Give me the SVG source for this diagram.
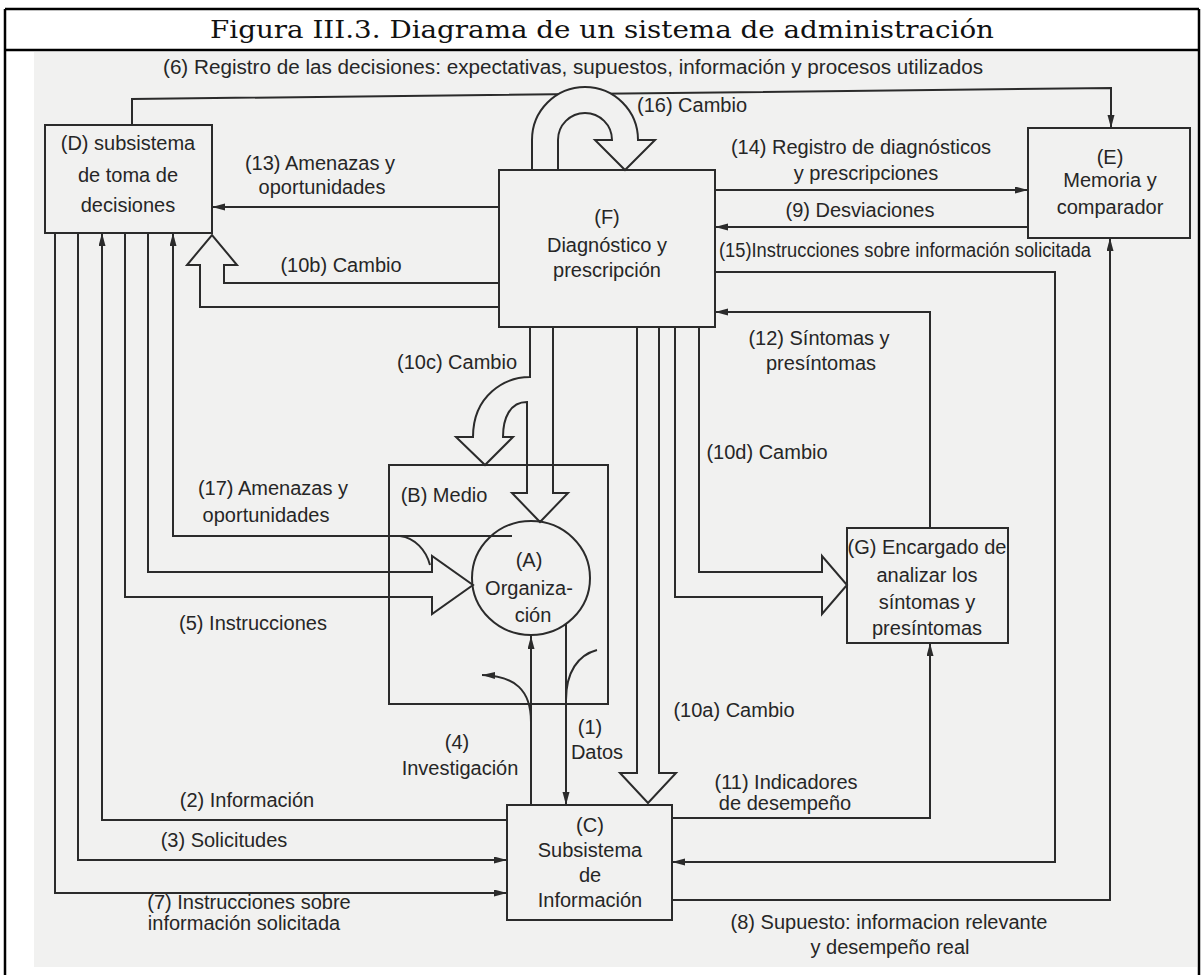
<svg xmlns="http://www.w3.org/2000/svg" width="1204" height="975" viewBox="0 0 1204 975">
  <defs>
    <marker id="ah" markerUnits="userSpaceOnUse" markerWidth="14" markerHeight="8" refX="13" refY="3.5" orient="auto">
      <path d="M0,0 L13,3.5 L0,7 z" fill="#2b2b2b"/>
    </marker>
    <style>
      .frame { stroke: #000; stroke-width: 2.5; fill: none; }
      .title { font-family: "DejaVu Serif", "Liberation Serif", serif; font-size: 24px; fill: #111; }
      .box { fill: none; stroke: #2b2b2b; stroke-width: 2; }
      .ln { fill: none; stroke: #2b2b2b; stroke-width: 2; }
      .arr { fill: none; stroke: #2b2b2b; stroke-width: 2; marker-end: url(#ah); }
      .blk { fill: none; stroke: #2b2b2b; stroke-width: 2; stroke-linejoin: miter; }
      .t { font-family: "Liberation Sans", Arial, sans-serif; font-size: 20px; fill: #262626; text-anchor: middle; }
      .ts { font-family: "Liberation Sans", Arial, sans-serif; font-size: 20px; fill: #262626; }
    </style>
  </defs>

  <!-- page and table cell -->
  <rect x="0" y="0" width="1204" height="975" fill="#ffffff"/>
  <rect x="34" y="52" width="1163" height="915" fill="#f1f1f0"/>
  <g id="frame">
    <line class="frame" x1="5" y1="9" x2="1199" y2="9"/>
    <line class="frame" x1="5" y1="50" x2="1199" y2="50"/>
    <line class="frame" x1="5" y1="9" x2="5" y2="975"/>
    <line class="frame" x1="1199" y1="9" x2="1199" y2="975"/>
    <text class="title" x="602" y="38" text-anchor="middle" textLength="784" lengthAdjust="spacingAndGlyphs">Figura III.3. Diagrama de un sistema de administración</text>
  </g>

  <!-- connectors -->
  <g id="connectors">
    <!-- (6) D to E over the top -->
    <polyline class="arr" points="132,125 132,99 1111,88 1111,128"/>
    <!-- (13) F to D -->
    <line class="arr" x1="499" y1="207" x2="212" y2="207"/>
    <!-- (14) F to E -->
    <line class="arr" x1="715" y1="190" x2="1028" y2="190"/>
    <!-- (9) E to F -->
    <line class="arr" x1="1028" y1="227" x2="715" y2="227"/>
    <!-- (12) G to F -->
    <polyline class="arr" points="930,528 930,312 715,312"/>
    <!-- (15) F to C -->
    <polyline class="arr" points="715,272 1055,272 1055,862 672,862"/>
    <!-- (11) C to G -->
    <polyline class="arr" points="672,818 930,818 930,643"/>
    <!-- (8) C to E -->
    <polyline class="arr" points="672,900 1110,900 1110,238"/>
    <!-- (7) D to C -->
    <polyline class="arr" points="55,233 55,893 507,893"/>
    <!-- (3) D to C -->
    <polyline class="arr" points="78,233 78,860 507,860"/>
    <!-- (2) C to D -->
    <polyline class="arr" points="507,820 102,820 102,233"/>
    <!-- (17) A to D -->
    <polyline class="arr" points="512,536 173,536 173,233"/>
    <path class="ln" d="M400,536 C415,538 426,550 430,565"/>
    <!-- (1) A to C -->
    <line class="arr" x1="566" y1="624" x2="566" y2="805"/>
    <path class="ln" d="M566,700 C566,672 578,655 597,650"/>
    <!-- (4) C to A -->
    <line class="arr" x1="531" y1="805" x2="531" y2="636"/>
    <path class="arr" d="M531,722 C531,690 515,676 482,675"/>

    <!-- (16) loop on F -->
    <path class="blk" style="fill:#f1f1f0" d="M532,170 L532,140 A53,53 0 0 1 638,140 L655,140 L625,170 L595,140 L612,140 A27,27 0 0 0 558,140 L558,170"/>
    <!-- (10b) F to D -->
    <path class="blk" d="M499,307 L200,307 L200,265 L187,265 L212,235 L237,265 L224,265 L224,283 L499,283"/>
    <!-- (5) D to A -->
    <path class="blk" d="M125,233 L125,597 L432,597 L432,614 L473,585 L432,556 L432,572 L148,572 L148,233"/>
    <!-- (10c) F to B, and F to A -->
    <path class="blk" d="M530,327 L530,377 C505,377 473,395 473,437 L456,437 L485,465 L513,437 L503,437 C503,418 510,402 527,402 L527,493 L512,493 L540,522 L568,493 L553,493 L553,327"/>
    <!-- (10a) F to C -->
    <path class="blk" d="M637,327 L637,773 L620,773 L648,803 L676,773 L659,773 L659,327"/>
    <!-- (10d) F to G -->
    <path class="blk" d="M675,327 L675,597 L822,597 L822,614 L847,585 L822,556 L822,572 L699,572 L699,327"/>
  </g>

  <!-- connector labels -->
  <g id="labels">
    <text class="t" x="573" y="74" textLength="820" lengthAdjust="spacingAndGlyphs">(6) Registro de las decisiones: expectativas, supuestos, información y procesos utilizados</text>
    <text class="ts" x="637" y="112">(16) Cambio</text>
    <text class="t" x="320" y="170">(13) Amenazas y</text>
    <text class="t" x="322" y="194">oportunidades</text>
    <text class="t" x="861" y="154">(14) Registro de diagnósticos</text>
    <text class="t" x="866" y="180">y prescripciones</text>
    <text class="t" x="860" y="217">(9) Desviaciones</text>
    <text class="ts" x="719" y="257" textLength="372" lengthAdjust="spacingAndGlyphs">(15)Instrucciones sobre información solicitada</text>
    <text class="t" x="341" y="272">(10b) Cambio</text>
    <text class="t" x="819" y="345">(12) Síntomas y</text>
    <text class="t" x="821" y="370">presíntomas</text>
    <text class="t" x="457" y="369">(10c) Cambio</text>
    <text class="t" x="767" y="459">(10d) Cambio</text>
    <text class="t" x="273" y="495">(17) Amenazas y</text>
    <text class="t" x="266" y="522">oportunidades</text>
    <text class="t" x="253" y="630">(5) Instrucciones</text>
    <text class="t" x="734" y="717">(10a) Cambio</text>
    <text class="t" x="590" y="734">(1)</text>
    <text class="t" x="597" y="759">Datos</text>
    <text class="t" x="457" y="749">(4)</text>
    <text class="t" x="460" y="775">Investigación</text>
    <text class="t" x="786" y="789">(11) Indicadores</text>
    <text class="t" x="785" y="810">de desempeño</text>
    <text class="t" x="247" y="807">(2) Información</text>
    <text class="t" x="224" y="847">(3) Solicitudes</text>
    <text class="t" x="249" y="909">(7) Instrucciones sobre</text>
    <text class="t" x="244" y="930">información solicitada</text>
    <text class="t" x="889" y="929">(8) Supuesto: informacion relevante</text>
    <text class="t" x="890" y="954">y desempeño real</text>
  </g>

  <!-- nodes -->
  <g id="node-D">
    <rect class="box" x="45" y="125" width="167" height="108"/>
    <text class="t" x="128" y="150">(D) subsistema</text>
    <text class="t" x="128" y="182">de toma de</text>
    <text class="t" x="128" y="212">decisiones</text>
  </g>
  <g id="node-F">
    <rect class="box" x="499" y="170" width="216" height="157"/>
    <text class="t" x="607" y="224">(F)</text>
    <text class="t" x="607" y="252">Diagnóstico y</text>
    <text class="t" x="607" y="277">prescripción</text>
  </g>
  <g id="node-E">
    <rect class="box" x="1028" y="128" width="162" height="110"/>
    <text class="t" x="1110" y="164">(E)</text>
    <text class="t" x="1110" y="187">Memoria y</text>
    <text class="t" x="1110" y="214">comparador</text>
  </g>
  <g id="node-B">
    <rect class="box" x="389" y="465" width="219" height="239"/>
    <text class="t" x="444" y="502">(B) Medio</text>
  </g>
  <g id="node-A">
    <ellipse class="box" cx="531" cy="578" rx="59" ry="57"/>
    <text class="t" x="529" y="567">(A)</text>
    <text class="t" x="529" y="595">Organiza-</text>
    <text class="t" x="533" y="622">ción</text>
  </g>
  <g id="node-G">
    <rect class="box" x="847" y="528" width="161" height="115"/>
    <text class="t" x="927" y="554">(G) Encargado de</text>
    <text class="t" x="927" y="582">analizar los</text>
    <text class="t" x="927" y="609">síntomas y</text>
    <text class="t" x="927" y="635">presíntomas</text>
  </g>
  <g id="node-C">
    <rect class="box" x="507" y="805" width="165" height="115"/>
    <text class="t" x="590" y="832">(C)</text>
    <text class="t" x="590" y="857">Subsistema</text>
    <text class="t" x="590" y="882">de</text>
    <text class="t" x="590" y="907">Información</text>
  </g>
</svg>
